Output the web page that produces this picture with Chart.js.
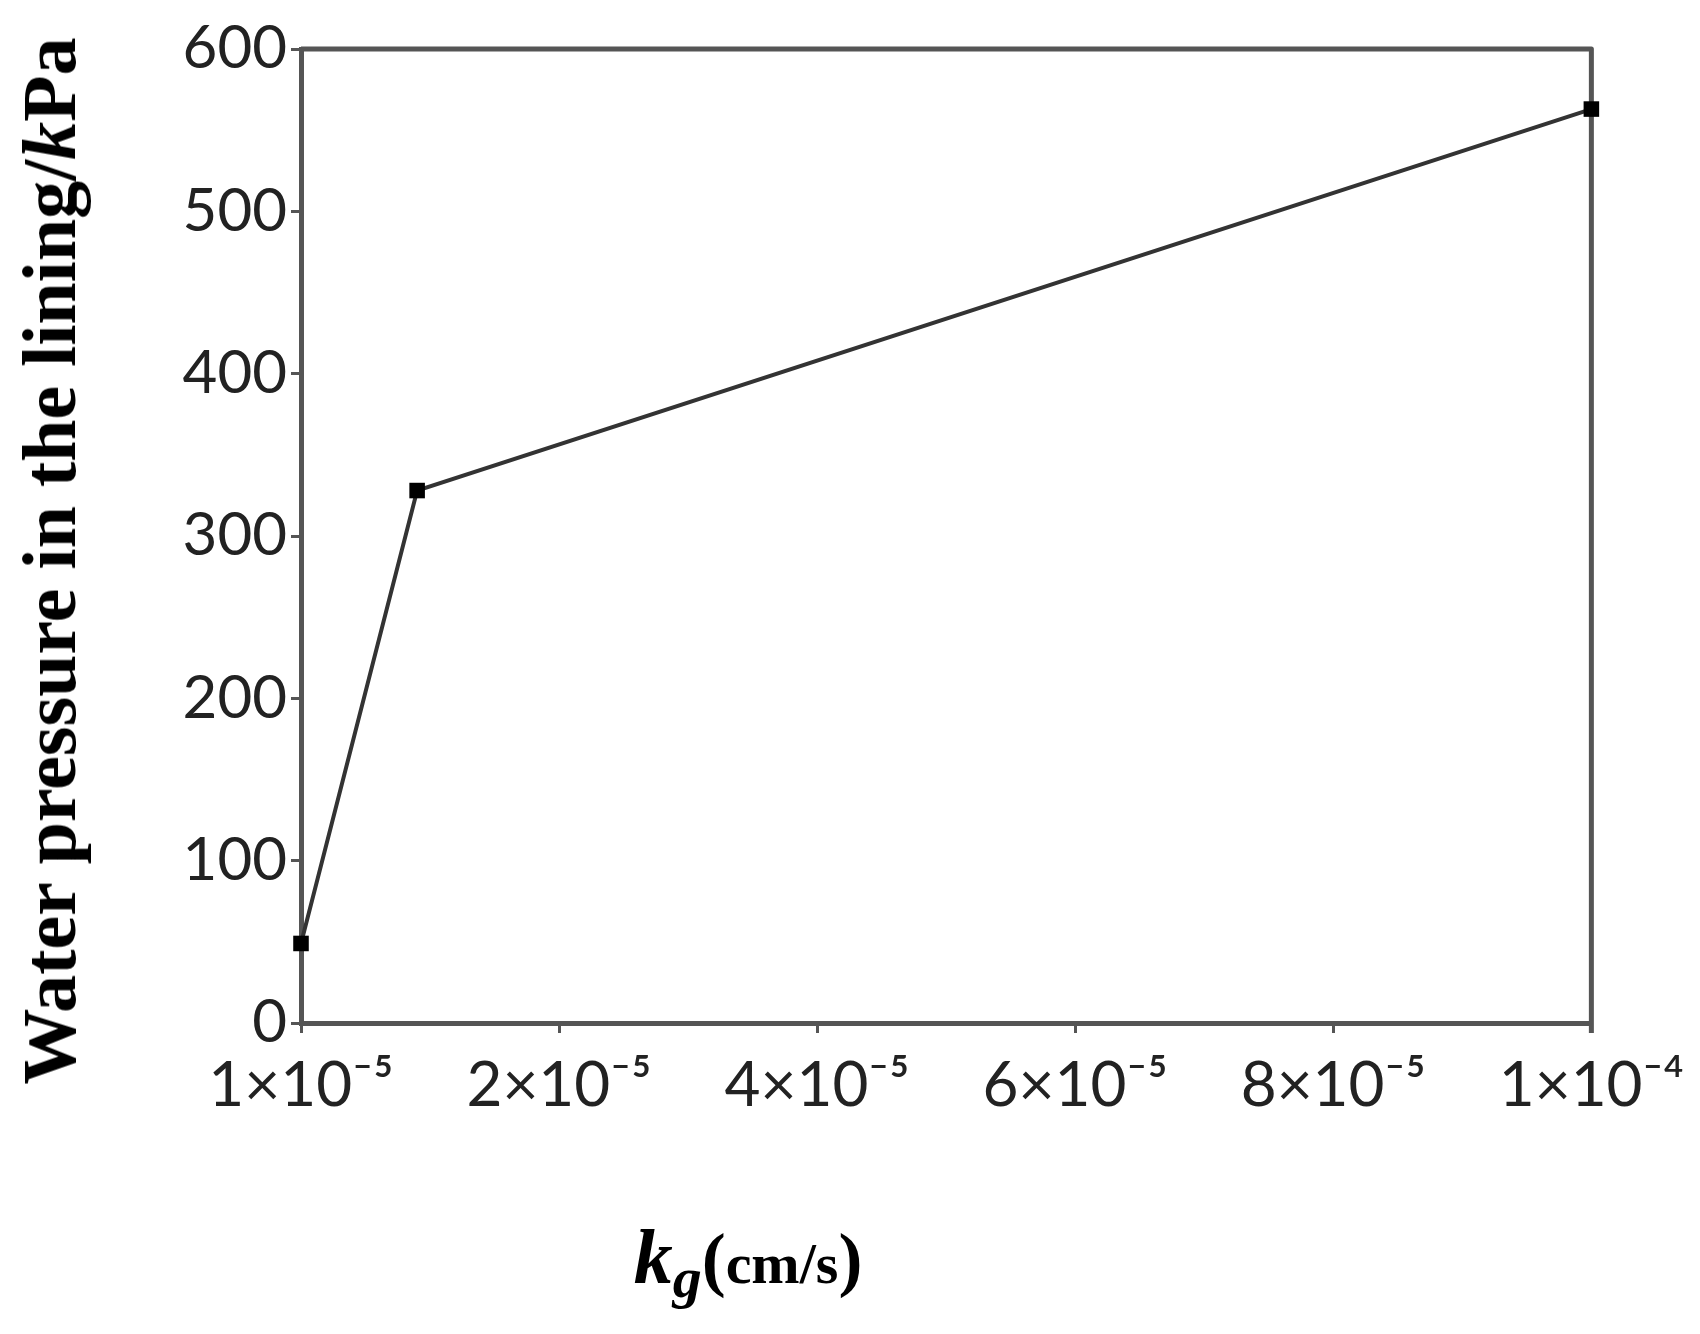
<!DOCTYPE html>
<html>
<head>
<meta charset="utf-8">
<script src="https://cdn.jsdelivr.net/npm/chart.js@4.4.1/dist/chart.umd.min.js"></script>
<style>
  html, body { margin: 0; padding: 0; background: #fff; }
  #wrap { position: relative; width: 1700px; height: 1334px; overflow: hidden; }
  #chart { position: absolute; left: 0; top: 0; }
  .ttl { position: absolute; font-family: "Liberation Serif", "DejaVu Serif", serif; font-weight: bold; color: #000; white-space: nowrap; }
  #yTitle { left: 49px; top: 561px; font-size: 76px; line-height: 1; transform: translate(-50%, -50%) rotate(-90deg); }
  #xTitle { left: 748px; top: 1217px; font-size: 66px; line-height: 80px; transform: translateX(-50%); }
  #xTitle .k { font-style: italic; font-size: 78px; }
  #xTitle .g { font-style: italic; font-size: 58px; position: relative; top: 14px; }
  #xTitle .u { font-size: 58px; }
  #xTitle .p { font-size: 72px; }
</style>
</head>
<body>
<div id="wrap">
  <canvas id="chart" width="1700" height="1334"></canvas>
  <div class="ttl" id="yTitle">Water pressure in the lining/<i>k</i>Pa</div>
  <div class="ttl" id="xTitle"><span class="k">k</span><span class="g">g</span><span class="p">(</span><span class="u">cm/s</span><span class="p">)</span></div>
</div>
<script>
// kg on the drawn axis, in units of 1e-5 cm/s (axis runs 0..10)
const kgPos = [0, 0.9, 10];
const pressure = [49, 328, 563];   // kPa

const xTickValues = [0, 2, 4, 6, 8, 10];
const xTickLabels = ['1×10⁻⁵', '2×10⁻⁵', '4×10⁻⁵', '6×10⁻⁵', '8×10⁻⁵', '1×10⁻⁴'];
const yTickValues = [0, 100, 200, 300, 400, 500, 600];

const AXIS = '#555';

// top + right sides of the box
const frame = {
  id: 'frame',
  beforeDatasetsDraw(chart) {
    const { ctx, chartArea: a } = chart;
    ctx.save();
    ctx.strokeStyle = AXIS;
    ctx.lineWidth = 5;
    ctx.lineJoin = 'round';
    ctx.beginPath();
    ctx.moveTo(a.left, a.top);
    ctx.lineTo(a.right, a.top);
    ctx.lineTo(a.right, a.bottom + 10);
    ctx.stroke();
    ctx.restore();
  }
};

new Chart(document.getElementById('chart'), {
  type: 'line',
  data: {
    datasets: [{
      data: kgPos.map((x, i) => ({ x, y: pressure[i] })),
      borderColor: '#333',
      borderWidth: 4,
      pointStyle: 'rect',
      pointRadius: 11,
      pointBackgroundColor: '#000',
      pointBorderWidth: 0,
      tension: 0,
      clip: false
    }]
  },
  options: {
    responsive: false,
    animation: false,
    layout: { padding: { left: 0, top: 49, right: 105, bottom: 0 } },
    plugins: { legend: { display: false }, tooltip: { enabled: false } },
    scales: {
      x: {
        type: 'linear', min: 0, max: 10,
        afterBuildTicks: s => { s.ticks = xTickValues.map(v => ({ value: v })); },
        afterFit: s => { s.height = 311; },
        ticks: {
          autoSkip: false, maxRotation: 0, padding: 16,
          color: '#222',
          font: { family: 'Lato', size: 62 },
          callback: v => xTickLabels[xTickValues.indexOf(v)]
        },
        grid: { display: true, drawOnChartArea: false, drawTicks: true, tickLength: 10, tickColor: AXIS, tickWidth: 3 },
        border: { display: true, color: AXIS, width: 5 }
      },
      y: {
        min: 0, max: 600,
        afterBuildTicks: s => { s.ticks = yTickValues.map(v => ({ value: v })); },
        afterFit: s => { s.width = 301; },
        ticks: {
          padding: 4,
          color: '#222',
          font: { family: 'Lato', size: 60 }
        },
        grid: { display: true, drawOnChartArea: false, drawTicks: true, tickLength: 10, tickColor: AXIS, tickWidth: 3 },
        border: { display: true, color: AXIS, width: 5 }
      }
    }
  },
  plugins: [frame]
});
</script>
</body>
</html>
